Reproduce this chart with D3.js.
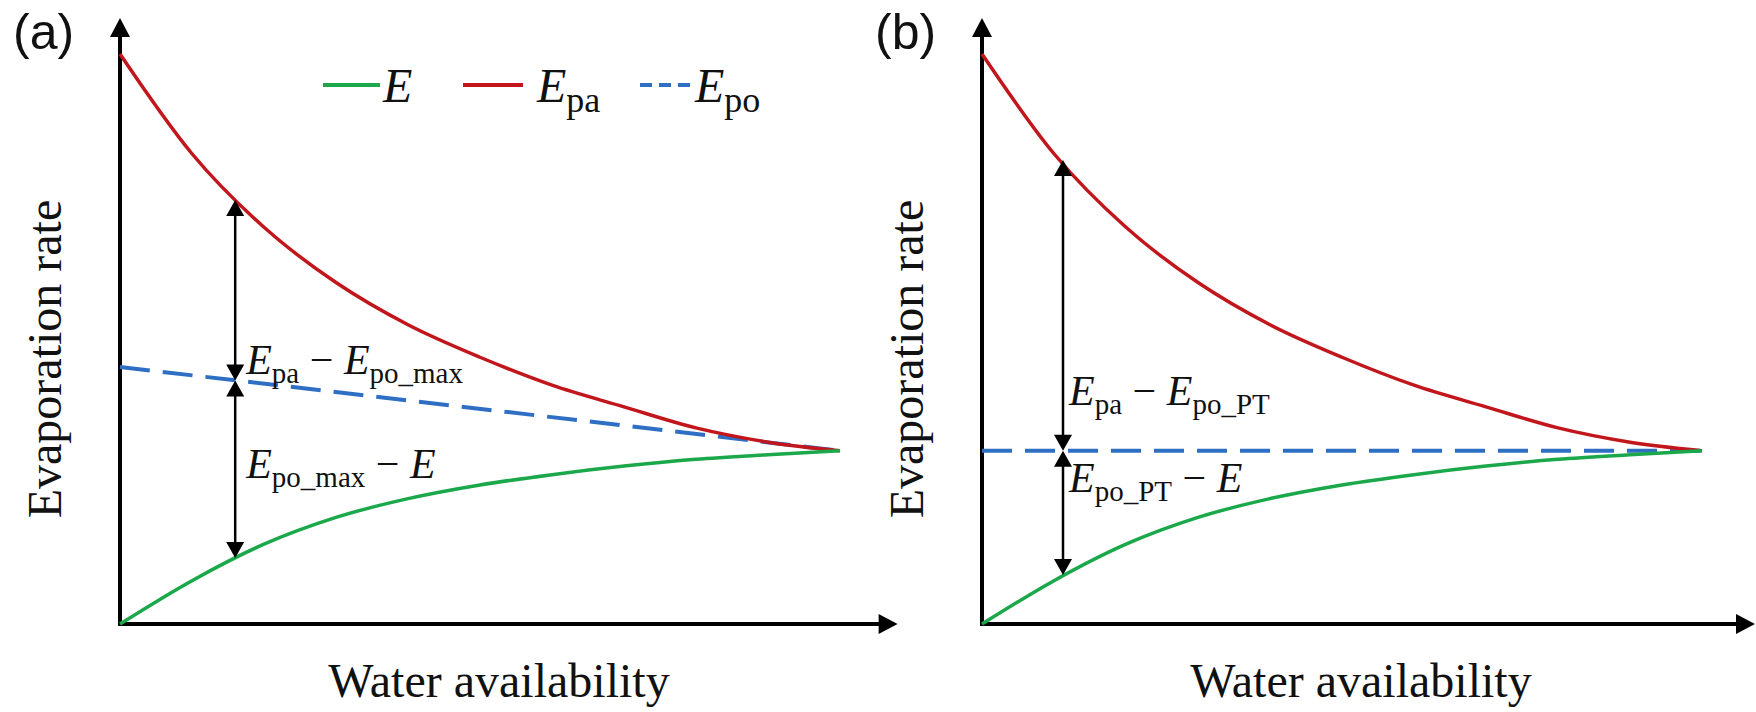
<!DOCTYPE html>
<html>
<head>
<meta charset="utf-8">
<script src="https://cdn.jsdelivr.net/npm/d3@7"></script>
<style>
  body { margin: 0; background: #fff; }
  text { font-family: "Liberation Serif", "Times New Roman", serif; fill: #111; }
  .panel-label { font-family: "Liberation Sans", Arial, sans-serif; }
</style>
</head>
<body>
<div id="chart"></div>
<script>
// Water availability (relative units), same for both panels
var waterLevels = [0, 10, 20, 30, 40, 50, 60, 70, 80, 90, 100];
// Actual evaporation E and apparent potential evaporation Epa (relative units)
var eValues   = [0, 7.6, 14.0, 18.7, 22.0, 24.4, 26.2, 27.7, 28.9, 29.7, 30.4];
var epaValues = [100, 82.5, 69.6, 59.9, 52.5, 46.8, 41.9, 38.1, 34.4, 31.9, 30.4];

// Potential evaporation line, start and end
var epoWater = [0, 100];
var epoMax   = [45.1, 30.4];   // panel (a)
var epoPT    = [30.4, 30.4];   // panel (b)

// Difference arrows: water level, top (Epa), middle (Epo), bottom (E)
var arrowWater  = [16, 11.25];
var arrowTop    = [74.4, 81.4];
var arrowMid    = [42.7, 30.4];
var arrowBottom = [11.6, 8.6];

var panelNames = ["(a)", "(b)"];
var epoNames   = ["po_max", "po_PT"];
var xLabel = "Water availability";
var yLabel = "Evaporation rate";

var colors = {E: "#1aa84a", Epa: "#c0161c", Epo: "#2e6fc4"};

var width = 1756, height = 712;

var svg = d3.select("#chart").append("svg")
  .attr("width", width)
  .attr("height", height);

var y = d3.scaleLinear().domain([0, 100]).range([624, 54]);

// small filled triangle, tip at (x, yy)
function triangle(g, x, yy, dir, len, wid) {
  var pts;
  if (dir == "up")    pts = [[x, yy], [x - wid / 2, yy + len], [x + wid / 2, yy + len]];
  if (dir == "down")  pts = [[x, yy], [x - wid / 2, yy - len], [x + wid / 2, yy - len]];
  if (dir == "right") pts = [[x, yy], [x - len, yy - wid / 2], [x - len, yy + wid / 2]];
  g.append("path")
    .attr("d", "M" + pts.join("L") + "Z")
    .attr("fill", "#000");
}

// text like E_sub1 − E_sub2
function diffLabel(g, x, yy, parts) {
  var t = g.append("text").attr("x", x).attr("y", yy).style("font-size", "42px");
  var shifted = false;
  parts.forEach(function(p) {
    var s = t.append("tspan").text(p.text);
    if (p.italic) s.style("font-style", "italic");
    if (p.sub) {
      s.style("font-size", "29px").attr("dy", shifted ? 0 : 9);
      shifted = true;
    } else {
      s.attr("dy", shifted ? -9 : 0);
      shifted = false;
    }
  });
}

function drawPanel(i, x0) {
  var g = svg.append("g");
  var x = d3.scaleLinear().domain([0, 100]).range([x0, x0 + 720]);

  var line = d3.line()
    .x(function(d) { return x(d[0]); })
    .y(function(d) { return y(d[1]); })
    .curve(d3.curveMonotoneX);

  // Axes with arrow heads
  var xEnd = Math.min(x(108), width - 1);
  g.append("line")
    .attr("x1", x(0)).attr("y1", y(0))
    .attr("x2", xEnd - 10).attr("y2", y(0))
    .attr("stroke", "#000").attr("stroke-width", 4);
  triangle(g, xEnd, y(0), "right", 19, 20);

  g.append("line")
    .attr("x1", x(0)).attr("y1", y(0) + 2)
    .attr("x2", x(0)).attr("y2", y(106.3) + 10)
    .attr("stroke", "#000").attr("stroke-width", 4);
  triangle(g, x(0), y(106.3), "up", 19, 20);

  // Curves
  var epo = i == 0 ? epoMax : epoPT;
  g.append("path")
    .datum(epoWater.map(function(w, k) { return [w, epo[k]]; }))
    .attr("d", line)
    .attr("fill", "none")
    .attr("stroke", colors.Epo)
    .attr("stroke-width", 4)
    .attr("stroke-dasharray", "30,13");

  g.append("path")
    .datum(waterLevels.map(function(w, k) { return [w, epaValues[k]]; }))
    .attr("d", line)
    .attr("fill", "none")
    .attr("stroke", colors.Epa)
    .attr("stroke-width", 3.5);

  g.append("path")
    .datum(waterLevels.map(function(w, k) { return [w, eValues[k]]; }))
    .attr("d", line)
    .attr("fill", "none")
    .attr("stroke", colors.E)
    .attr("stroke-width", 3.5);

  // Double arrows between curves
  var ax = x(arrowWater[i]);
  [[arrowTop[i], arrowMid[i]], [arrowMid[i], arrowBottom[i]]].forEach(function(seg) {
    var yt = y(seg[0]), yb = y(seg[1]);
    g.append("line")
      .attr("x1", ax).attr("y1", yt + 10)
      .attr("x2", ax).attr("y2", yb - 10)
      .attr("stroke", "#000").attr("stroke-width", 2.5);
    triangle(g, ax, yt, "up", 16, 18);
    triangle(g, ax, yb, "down", 16, 18);
  });

  // Annotations
  var midY = y(arrowMid[i]);
  var tx = ax + (i == 0 ? 11 : 6);
  diffLabel(g, tx, i == 0 ? midY - 7 : midY - 46, [
    {text: "E", italic: true}, {text: "pa", sub: true},
    {text: " \u2212 "}, {text: "E", italic: true}, {text: epoNames[i], sub: true}
  ]);
  diffLabel(g, tx, i == 0 ? midY + 97 : midY + 41, [
    {text: "E", italic: true}, {text: epoNames[i], sub: true},
    {text: " \u2212 "}, {text: "E", italic: true}
  ]);

  // Axis titles
  g.append("text")
    .attr("x", x0 + 379).attr("y", 697)
    .attr("text-anchor", "middle")
    .style("font-size", "48px")
    .text(xLabel);

  g.append("text")
    .attr("transform", "translate(" + (x0 - 59) + ",359) rotate(-90)")
    .attr("text-anchor", "middle")
    .style("font-size", "48px")
    .text(yLabel);

  g.append("text")
    .attr("class", "panel-label")
    .attr("x", x0 - 107).attr("y", 49)
    .style("font-size", "50px")
    .text(panelNames[i]);
}

drawPanel(0, 120);
drawPanel(1, 982);

// Legend (panel a only)
var legend = [
  {key: "E", sub: "", x1: 323, x2: 380, tx: 383, dash: null},
  {key: "Epa", sub: "pa", x1: 463, x2: 523, tx: 537, dash: null},
  {key: "Epo", sub: "po", x1: 640, x2: 690, tx: 695, dash: "12,7"}
];
legend.forEach(function(d) {
  svg.append("line")
    .attr("x1", d.x1).attr("x2", d.x2)
    .attr("y1", 85).attr("y2", 85)
    .attr("stroke", colors[d.key])
    .attr("stroke-width", 4)
    .attr("stroke-dasharray", d.dash);
  var t = svg.append("text")
    .attr("x", d.tx).attr("y", 102)
    .style("font-size", "48px");
  t.append("tspan").style("font-style", "italic").text("E");
  if (d.sub) t.append("tspan").attr("dy", 10).style("font-size", "36px").text(d.sub);
});
</script>
</body>
</html>
